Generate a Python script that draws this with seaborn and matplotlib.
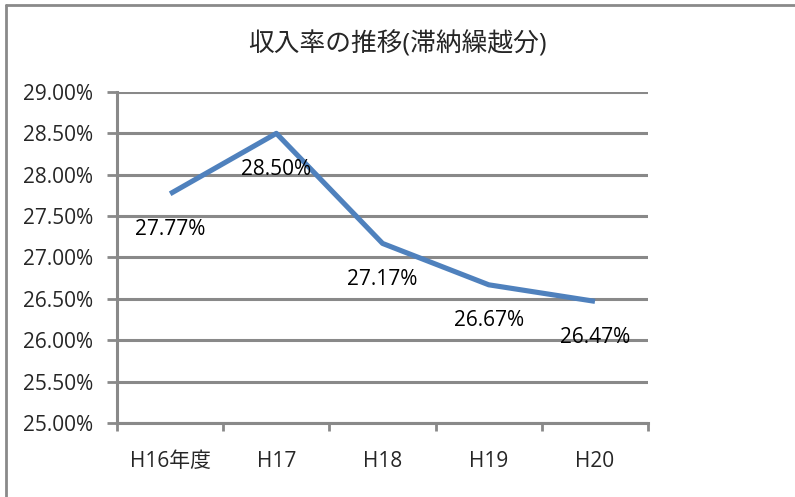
import numpy as np
import pandas as pd
import matplotlib
matplotlib.use('Agg')
import matplotlib.pyplot as plt
from matplotlib.lines import Line2D
from matplotlib.ticker import FixedLocator, FuncFormatter
import seaborn as sns

years = ['H16年度', 'H17', 'H18', 'H19', 'H20']
rates = [27.77, 28.50, 27.17, 26.67, 26.47]
y_ticks = [25.0, 25.5, 26.0, 26.5, 27.0, 27.5, 28.0, 28.5, 29.0]
title = '収入率の推移(滞納繰越分)'

sns.set_theme(style='white')
plt.rcParams['font.family'] = ['Open Sans', 'Noto Sans CJK JP', 'DejaVu Sans']

df = pd.DataFrame({'year': years, 'rate': rates})

fig = plt.figure(figsize=(7.95, 4.97), dpi=100)
ax = fig.add_axes([0.1472, 0.1489, 0.668, 0.666])

grid_c = '#898989'
for v in y_ticks:
    ax.axhline(v, color=grid_c, lw=2.2, zorder=1)

sns.lineplot(data=df, x='year', y='rate', ax=ax, color='#4F81BD', lw=3.7,
             sort=False, zorder=3, solid_capstyle='butt')

# data labels sit under each point, like the spreadsheet default
for i, r in enumerate(rates):
    ax.annotate(f'{r:.2f}%', (i, r), xytext=(0, -26), textcoords='offset points',
                ha='center', va='center', fontsize=15, color='black')

ax.set_xlim(-0.5, len(years) - 0.5)
ax.set_ylim(25.0, 29.0)
ax.set_yticks(y_ticks)
ax.yaxis.set_major_formatter(FuncFormatter(lambda v, p: f'{v:.2f}%'))
ax.set_xticks(range(len(years)))
ax.set_xticklabels(years)
ax.xaxis.set_minor_locator(FixedLocator(np.arange(-0.5, len(years), 1.0)))
ax.tick_params(axis='x', which='major', length=0, labelsize=15, pad=20)
ax.tick_params(axis='x', which='minor', length=6, width=2, color=grid_c, bottom=True)
ax.tick_params(axis='y', length=7, width=2, color=grid_c, labelsize=15, left=True, pad=10)
ax.set_xlabel('')
ax.set_ylabel('')

for s in ['top', 'right']:
    ax.spines[s].set_visible(False)
for s in ['left', 'bottom']:
    ax.spines[s].set_color(grid_c)
    ax.spines[s].set_linewidth(2.2)

fig.text(0.5, 0.91, title, ha='center', va='center', fontsize=18.5)

# chart frame: only the top and left edges show in the cropped original
fig.add_artist(Line2D([0.0075, 1.0], [0.99, 0.99], transform=fig.transFigure,
                      color='#8a8a8a', lw=2))
fig.add_artist(Line2D([0.0075, 0.0075], [0.0, 0.99], transform=fig.transFigure,
                      color='#8a8a8a', lw=2))

fig.savefig('out.png', dpi=100)
